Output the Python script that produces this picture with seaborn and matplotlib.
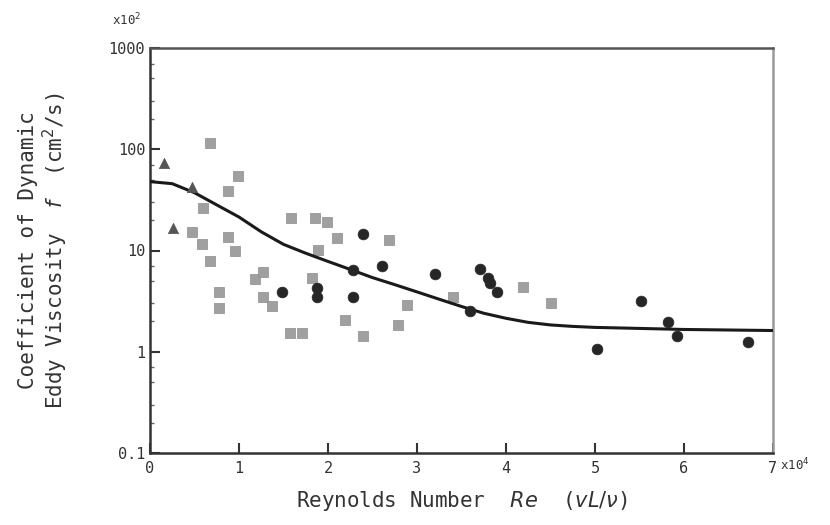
import numpy as np
import pandas as pd
import seaborn as sns
from matplotlib import pyplot as plt
from matplotlib.ticker import LogLocator, FixedLocator, NullFormatter

# data (x in units of 10^4, y in units of 10^2 cm^2/s)
gray_x = [0.67, 0.99, 0.88, 0.60, 1.58, 0.47, 0.88, 0.58, 0.67, 0.96, 1.18, 1.27, 0.78, 1.27,
          1.37, 0.78, 1.85, 1.99, 2.10, 2.69, 1.89, 1.82, 2.89, 2.19, 2.79, 1.57, 1.71, 2.39,
          4.19, 3.40, 4.51]
gray_y = [116, 55, 39, 26.5, 21, 15.4, 13.7, 11.5, 7.8, 9.8, 5.2, 6.1, 3.9, 3.5,
          2.8, 2.7, 21, 19, 13.4, 12.8, 10.2, 5.4, 2.9, 2.04, 1.82, 1.52, 1.52, 1.42,
          4.4, 3.5, 3.0]

dark_x = [1.48, 2.39, 2.28, 2.61, 3.20, 1.88, 1.88, 2.28, 3.71, 3.80, 3.82, 3.90, 3.60,
          5.02, 5.52, 5.82, 5.92, 6.72]
dark_y = [3.9, 14.7, 6.4, 7.0, 5.8, 4.3, 3.5, 3.5, 6.5, 5.4, 4.8, 3.9, 2.5,
          1.06, 3.15, 1.95, 1.42, 1.24]

tri_x = [0.16, 0.47, 0.26]
tri_y = [73.6, 42.7, 16.5]

curve_x = [0.0, 0.25, 0.5, 0.75, 1.0, 1.25, 1.5, 1.75, 2.0, 2.25, 2.5, 2.75, 3.0,
           3.25, 3.5, 3.75, 4.0, 4.25, 4.5, 4.75, 5.0, 5.5, 6.0, 7.0]
curve_y = [47.9, 45.7, 37.2, 28.2, 21.4, 15.3, 11.5, 9.4, 7.8, 6.5, 5.4, 4.6, 3.9,
           3.3, 2.8, 2.4, 2.14, 1.95, 1.84, 1.78, 1.74, 1.70, 1.66, 1.62]

gray_df = pd.DataFrame({'Re': gray_x, 'nu': gray_y})
dark_df = pd.DataFrame({'Re': dark_x, 'nu': dark_y})
tri_df = pd.DataFrame({'Re': tri_x, 'nu': tri_y})
curve_df = pd.DataFrame({'Re': curve_x, 'nu': curve_y})

sns.set_style("ticks")
plt.rcParams['font.family'] = ['DejaVu Sans Mono', 'DejaVu Sans']
plt.rcParams['mathtext.fontset'] = 'dejavusans'

fig = plt.figure(figsize=(8.3, 5.25), dpi=100)
ax = fig.add_axes([150 / 830, 1 - 453 / 525, 623 / 830, 405 / 525])

sns.lineplot(data=curve_df, x='Re', y='nu', ax=ax, color='#1a1a1a', linewidth=2.2,
             sort=True, zorder=3)
sns.scatterplot(data=gray_df, x='Re', y='nu', ax=ax, color='#a0a0a0', marker='s',
                s=55, edgecolor='#8c8c8c', linewidth=0.5, zorder=2)
sns.scatterplot(data=dark_df, x='Re', y='nu', ax=ax, color='#262626', marker='o',
                s=60, edgecolor='#262626', linewidth=0.5, zorder=4)
sns.scatterplot(data=tri_df, x='Re', y='nu', ax=ax, color='#555555', marker='^',
                s=55, edgecolor='#555555', linewidth=0.5, zorder=4)

ax.set_yscale('log')
ax.set_xlim(0, 7)
ax.set_ylim(0.1, 1000)
ax.xaxis.set_major_locator(FixedLocator(range(8)))
ax.set_yticks([0.1, 1, 10, 100, 1000])
ax.set_yticklabels(['0.1', '1', '10', '100', '1000'])
ax.yaxis.set_minor_locator(LogLocator(base=10, subs=[2, 3, 5, 7]))
ax.yaxis.set_minor_formatter(NullFormatter())
ax.tick_params(axis='both', which='major', direction='in', length=7, width=1.5,
               labelsize=11, colors='#333333')
ax.tick_params(axis='y', which='minor', direction='in', length=3, width=1, colors='#666666')
ax.tick_params(axis='x', pad=6)

for side in ['left', 'bottom']:
    ax.spines[side].set_color('#333333')
    ax.spines[side].set_linewidth(1.8)
ax.spines['top'].set_visible(True)
ax.spines['top'].set_color('#555555')
ax.spines['top'].set_linewidth(1.8)
ax.spines['right'].set_visible(True)
ax.spines['right'].set_color('#9a9a9a')
ax.spines['right'].set_linewidth(1.8)

ax.set_xlabel('Reynolds Number  $Re$  ($vL/\\nu$)', fontsize=15, color='#333333', labelpad=9)
ax.set_ylabel('Coefficient of Dynamic\nEddy Viscosity  $f$  (cm$^2$/s)', fontsize=15,
              color='#333333', labelpad=28, linespacing=1.1)

fig.text(112 / 830, 1 - 20 / 525, 'x10$^2$', fontsize=9, color='#333333', va='center')
fig.text(780 / 830, 1 - 465 / 525, 'x10$^4$', fontsize=9, color='#333333', va='center')

fig.savefig('out.png', dpi=100, facecolor='white')
